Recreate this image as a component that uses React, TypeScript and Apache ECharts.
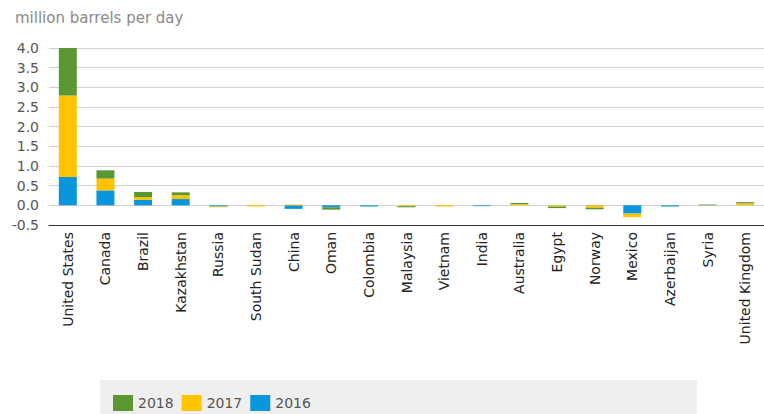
import React, { useEffect, useRef } from "react";
import * as echarts from "echarts";

const categories = [
  "United States", "Canada", "Brazil", "Kazakhstan", "Russia", "South Sudan", "China", "Oman",
  "Colombia", "Malaysia", "Vietnam", "India", "Australia", "Egypt", "Norway", "Mexico",
  "Azerbaijan", "Syria", "United Kingdom",
];
const values2016 = [0.72, 0.38, 0.14, 0.16, -0.03, 0, -0.09, -0.05, -0.03, 0, 0, -0.02, 0, 0, 0, -0.21, -0.03, 0, 0];
const values2017 = [2.07, 0.30, 0.07, 0.10, -0.02, -0.03, 0.02, 0, 0, -0.02, -0.03, 0, 0.03, -0.03, -0.06, -0.09, 0, 0, 0.05];
const values2018 = [1.21, 0.21, 0.13, 0.07, 0, 0, 0, -0.06, 0, -0.03, 0, 0, 0.03, -0.04, -0.04, 0, 0, 0.02, 0.03];
const legendOrder = ["2018", "2017", "2016"];
const subtitle = "million barrels per day";

const COLORS: Record<string, string> = { "2016": "#0a96dc", "2017": "#ffc300", "2018": "#5a9632" };
const FONT = "DejaVu Sans";

export default function App() {
  const ref = useRef<HTMLDivElement>(null);
  useEffect(() => {
    if (!ref.current) return;
    const chart = echarts.init(ref.current, undefined, { renderer: "svg" });
    const mk = (name: string, data: number[]) => ({
      name,
      type: "bar",
      stack: "total",
      data,
      barWidth: 18,
      itemStyle: { color: COLORS[name] },
    });
    chart.setOption({
      animation: false,
      textStyle: { fontFamily: FONT },
      title: {
        text: subtitle,
        left: 10,
        top: 5,
        textStyle: { fontSize: 15, fontWeight: "normal", color: "#8a8a8a", fontFamily: FONT },
      },
      graphic: [
        {
          type: "rect",
          shape: { x: 100, y: 380, width: 597, height: 34 },
          style: { fill: "#efefef" },
          z: -1,
        },
      ],
      legend: {
        data: legendOrder,
        left: 108,
        top: 390,
        itemWidth: 20,
        itemHeight: 16,
        itemGap: 8,
        icon: "rect",
        textStyle: { fontSize: 14, color: "#555", fontFamily: FONT },
      },
      grid: { left: 49, top: 48, width: 722, height: 177, containLabel: false },
      xAxis: {
        type: "category",
        data: categories,
        axisLine: { onZero: false, lineStyle: { color: "#333", width: 1 } },
        axisTick: { alignWithLabel: true, length: 5, lineStyle: { color: "#333" } },
        axisLabel: {
          rotate: 90,
          interval: 0,
          fontSize: 14,
          color: "#222",
          margin: 7,
          fontFamily: FONT,
        },
      },
      yAxis: {
        type: "value",
        min: -0.5,
        max: 4.0,
        interval: 0.5,
        axisLine: { show: false },
        axisTick: { show: false },
        axisLabel: {
          formatter: (v: number) => v.toFixed(1),
          fontSize: 14,
          color: "#555",
          margin: 10,
          fontFamily: FONT,
        },
        splitLine: { lineStyle: { color: "#d0d0d0", width: 1 } },
      },
      series: [mk("2016", values2016), mk("2017", values2017), mk("2018", values2018)],
    });
    return () => chart.dispose();
  }, []);
  return (
    <div
      ref={ref}
      style={{ position: "absolute", left: 0, top: 0, width: 764, height: 414, background: "#fff" }}
    />
  );
}
